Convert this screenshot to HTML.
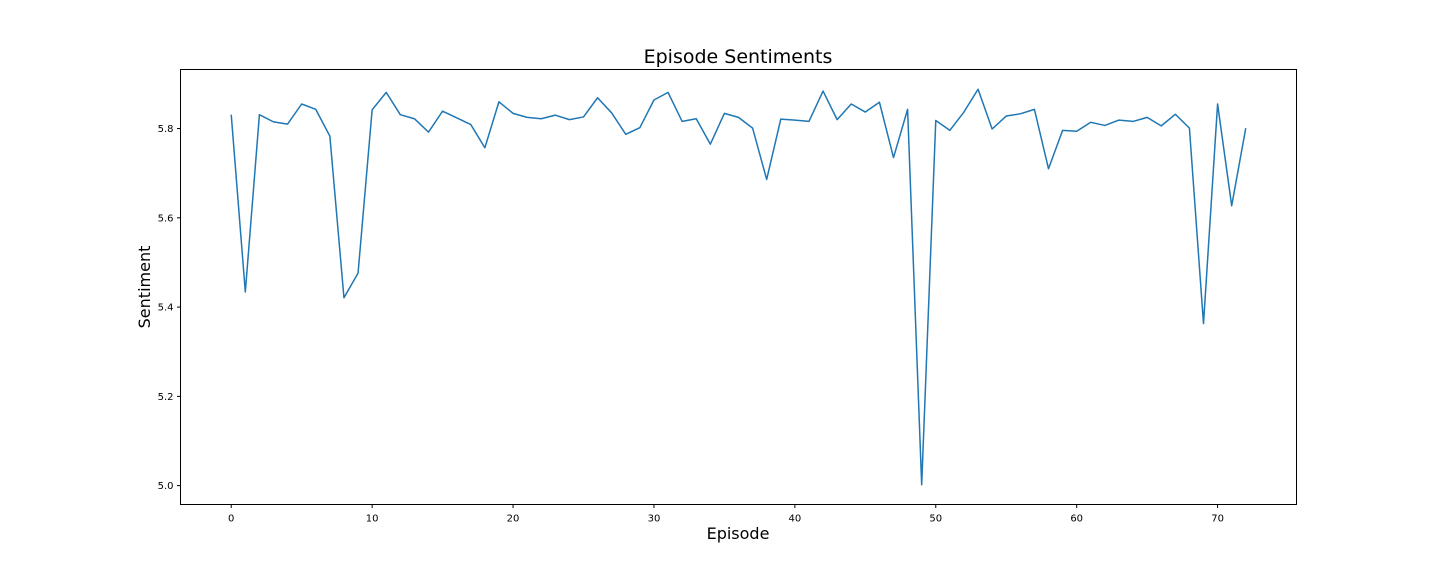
<!DOCTYPE html>
<html><head><meta charset="utf-8"><style>
html,body{margin:0;padding:0;background:#fff;}
svg{display:block;font-family:"DejaVu Sans","Liberation Sans",sans-serif;}
</style></head><body>
<svg id="chart" width="1440" height="576" viewBox="0 0 1440 576" xmlns="http://www.w3.org/2000/svg">
<rect width="1440" height="576" fill="#fff"/>
<text x="738" y="63" font-size="19" text-anchor="middle" fill="#000">Episode Sentiments</text>
<text x="738" y="539" font-size="16" text-anchor="middle" fill="#000">Episode</text>
<text x="0" y="0" font-size="16" text-anchor="middle" fill="#000" transform="translate(150,287) rotate(-90)">Sentiment</text>
<g id="ticks"></g>
<polyline id="line" fill="none" stroke="#1f77b4" stroke-width="1.5" stroke-linejoin="round"/>
<rect x="180.5" y="69.5" width="1116" height="435" fill="none" stroke="#000" stroke-width="1"/>
</svg>
<script>
const sentiments = [5.831,5.434,5.831,5.815,5.810,5.855,5.843,5.783,5.421,5.476,5.842,5.881,5.831,5.822,5.792,5.839,5.824,5.809,5.757,5.860,5.834,5.825,5.822,5.830,5.820,5.826,5.869,5.835,5.787,5.802,5.864,5.881,5.816,5.822,5.765,5.834,5.825,5.801,5.686,5.821,5.819,5.816,5.884,5.820,5.855,5.837,5.859,5.735,5.843,5.002,5.818,5.796,5.837,5.888,5.799,5.828,5.833,5.843,5.710,5.796,5.794,5.814,5.807,5.819,5.816,5.825,5.806,5.832,5.801,5.363,5.855,5.627,5.801];
const xTicks = [0,10,20,30,40,50,60,70];
const yTicks = [5.0,5.2,5.4,5.6,5.8];
const L=180.5,R=1296.5,T=69.5,B=504.5;
const n=sentiments.length;
const xmin=-(n-1)*0.05, xmax=(n-1)*1.05;
const vmin=Math.min(...sentiments), vmax=Math.max(...sentiments), pad=(vmax-vmin)*0.05;
const ymin=vmin-pad, ymax=vmax+pad;
const sx=v=>L+(v-xmin)/(xmax-xmin)*(R-L);
const sy=v=>B-(v-ymin)/(ymax-ymin)*(B-T);
const NS="http://www.w3.org/2000/svg";
const line=document.getElementById('line');
line.setAttribute('points',sentiments.map((v,i)=>sx(i).toFixed(2)+','+sy(v).toFixed(2)).join(' '));
const g=document.getElementById('ticks');
xTicks.forEach(t=>{
  const x=sx(t);
  const l=document.createElementNS(NS,'line');
  
  
  l.setAttribute('x1',x);l.setAttribute('x2',x);l.setAttribute('y1',B);l.setAttribute('y2',B+3.5);l.setAttribute('stroke','#000');
  g.appendChild(l);
  const tx=document.createElementNS(NS,'text');
  
  
  tx.setAttribute('x',x);tx.setAttribute('y',B+17);tx.setAttribute('font-size','10');tx.setAttribute('text-anchor','middle');
  tx.textContent=t;g.appendChild(tx);
});
yTicks.forEach(t=>{
  const y=sy(t);
  const l=document.createElementNS(NS,'line');
  
  
  l.setAttribute('x1',L-3.5);l.setAttribute('x2',L);l.setAttribute('y1',y);l.setAttribute('y2',y);l.setAttribute('stroke','#000');
  g.appendChild(l);
  const tx=document.createElementNS(NS,'text');
  
  
  tx.setAttribute('x',L-7);tx.setAttribute('y',y+3.5);tx.setAttribute('font-size','10');tx.setAttribute('text-anchor','end');
  tx.textContent=t.toFixed(1);g.appendChild(tx);
});
</script>
</body></html>
